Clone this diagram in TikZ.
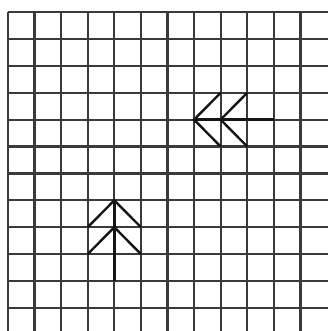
\documentclass[tikz,border=0pt]{standalone}
\usepackage{tikz}
\usepackage{xcolor}
\definecolor{GridInk}{HTML}{3A3A3A}
\definecolor{ArrowInk}{HTML}{151515}

\begin{document}
\begin{tikzpicture}[
  x=0.7cm, y=-0.708cm,
  gridline/.style={line width=1.7pt, color=GridInk},
  chevron/.style={line width=1.8pt, color=ArrowInk, line join=miter}
]
  \useasboundingbox (-0.30,-0.45) rectangle (12.03,11.86);
  \begin{scope}
    \clip (-0.30,-0.45) rectangle (12.03,11.86);
    % grid
    \foreach \i in {0,...,11}
      \draw[gridline] (\i,0) -- (\i,11.9);
    \foreach \j in {0,...,11}
      \draw[gridline] (0,\j) -- (12.1,\j);
  \end{scope}

  % arrow pointing left
  \coordinate (lt1) at (7,4);
  \coordinate (lt2) at (8,4);
  \coordinate (ltend) at (10,4);
  \draw[chevron] (lt1) -- (ltend);
  \draw[chevron] ([shift={(1,-1)}]lt1) -- (lt1) -- ([shift={(1,1)}]lt1);
  \draw[chevron] ([shift={(1,-1)}]lt2) -- (lt2) -- ([shift={(1,1)}]lt2);

  % arrow pointing up
  \coordinate (up1) at (4,7);
  \coordinate (up2) at (4,8);
  \coordinate (upend) at (4,10);
  \draw[chevron] (up1) -- (upend);
  \draw[chevron] ([shift={(-1,1)}]up1) -- (up1) -- ([shift={(1,1)}]up1);
  \draw[chevron] ([shift={(-1,1)}]up2) -- (up2) -- ([shift={(1,1)}]up2);
\end{tikzpicture}
\end{document}
